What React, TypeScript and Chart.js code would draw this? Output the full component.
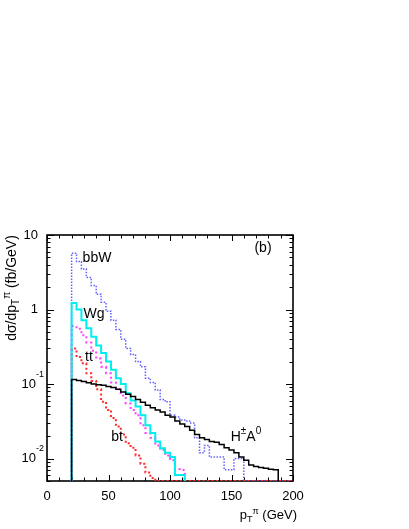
import React, { useEffect, useRef } from "react";
import { Chart, registerables } from "chart.js";
Chart.register(...registerables);

// Histogram bin edges (GeV), 4 GeV bins
const binEdges = [20, 24, 28, 32, 36, 40, 44, 48, 52, 56, 60, 64, 68, 72, 76, 80, 84, 88, 92, 96, 100, 104, 108, 112, 116, 120, 124, 128, 132, 136, 140, 144, 148, 152, 156, 160, 164, 168, 172, 176, 180, 184, 188, 192, 196, 200];

// dσ/dpT (fb/GeV) per bin, starting at the 20 GeV bin
const hA0 = [0.115, 0.112, 0.108, 0.104, 0.1, 0.098, 0.096, 0.093, 0.09, 0.085, 0.078, 0.073, 0.068, 0.062, 0.057, 0.052, 0.048, 0.045, 0.042, 0.038, 0.036, 0.032, 0.029, 0.027, 0.024, 0.021, 0.019, 0.018, 0.017, 0.0165, 0.0155, 0.014, 0.013, 0.012, 0.0105, 0.0095, 0.0082, 0.0078, 0.0076, 0.0074, 0.0072, 0.0071];
const bbW = [5.7, 4.4, 3.5, 2.7, 2.1, 1.6, 1.25, 0.95, 0.72, 0.54, 0.4, 0.3, 0.25, 0.2, 0.17, 0.12, 0.105, 0.083, 0.062, 0.058, 0.038, 0.036, 0.033, 0.032, 0.03, 0.019, 0.012, 0.015, 0.0105, 0.0105, 0.0105, 0.0071, 0.0071, 0.01, 0.01];
const wg = [1.22, 1.0, 0.72, 0.56, 0.43, 0.33, 0.26, 0.2, 0.155, 0.12, 0.1, 0.075, 0.06, 0.05, 0.038, 0.028, 0.022, 0.017, 0.0138, 0.012, 0.0105, 0.006, 0.006];
const ttbar = [0.6, 0.55, 0.45, 0.36, 0.28, 0.22, 0.17, 0.14, 0.105, 0.085, 0.07, 0.055, 0.045, 0.038, 0.028, 0.022, 0.019, 0.015, 0.013, 0.011, 0.0095, 0.0072, 0.007];
const bt = [0.3, 0.23, 0.19, 0.14, 0.11, 0.085, 0.058, 0.045, 0.035, 0.027, 0.021, 0.016, 0.014, 0.011, 0.0085, 0.0065, 0.0055];

const xTickLabels = [0, 50, 100, 150, 200];
const yTickValues = [10, 1, 0.1, 0.01];
const yTickBase = ["10", "1", "10", "10"];
const yTickExp = ["", "", "-1", "-2"];

const X_MIN = 0;
const X_MAX = 200;
const Y_MIN = 0.005;
const Y_MAX = 10;
const FONT = '"Liberation Sans", Arial, Helvetica, sans-serif';

function histPoints(vals: number[], tailTo?: number) {
  const pts: { x: number; y: number }[] = [{ x: binEdges[0], y: Y_MIN }];
  vals.forEach((v, i) => pts.push({ x: binEdges[i], y: v }));
  const end = binEdges[vals.length];
  pts.push({ x: end, y: vals[vals.length - 1] });
  pts.push({ x: end, y: Y_MIN });
  if (tailTo !== undefined) pts.push({ x: tailTo, y: Y_MIN });
  return pts;
}

type Part = { t: string; size: number; dy: number };

function drawRich(ctx: CanvasRenderingContext2D, parts: Part[], x: number, y: number, align: "left" | "center" | "right") {
  let w = 0;
  for (const p of parts) {
    ctx.font = `${p.size}px ${FONT}`;
    w += ctx.measureText(p.t).width;
  }
  let cx = align === "left" ? x : align === "center" ? x - w / 2 : x - w;
  ctx.textAlign = "left";
  for (const p of parts) {
    ctx.font = `${p.size}px ${FONT}`;
    ctx.fillText(p.t, cx, y + p.dy);
    cx += ctx.measureText(p.t).width;
  }
}

const decor = {
  id: "decor",
  beforeDatasetsDraw(chart: any) {
    const { ctx, chartArea: a, scales } = chart;
    const xs = scales.x;
    const ys = scales.y;
    ctx.save();
    ctx.strokeStyle = "#000";
    ctx.lineWidth = 1;
    ctx.beginPath();
    for (let v = X_MIN; v <= X_MAX; v += 10) {
      const px = Math.round(xs.getPixelForValue(v)) + 0.5;
      const len = v % 50 === 0 ? 6 : 3.5;
      ctx.moveTo(px, a.bottom);
      ctx.lineTo(px, a.bottom - len);
      ctx.moveTo(px, a.top);
      ctx.lineTo(px, a.top + len);
    }
    for (let e = -3; e <= 1; e++) {
      for (let m = 1; m <= 9; m++) {
        const v = m * Math.pow(10, e);
        if (v < Y_MIN * 0.999 || v > Y_MAX * 1.001) continue;
        const py = Math.round(ys.getPixelForValue(v)) + 0.5;
        const len = m === 1 ? 7 : 3.5;
        ctx.moveTo(a.left, py);
        ctx.lineTo(a.left + len, py);
        ctx.moveTo(a.right, py);
        ctx.lineTo(a.right - len, py);
      }
    }
    ctx.stroke();
    ctx.lineWidth = 1.6;
    ctx.strokeRect(a.left, a.top, a.right - a.left, a.bottom - a.top);
    ctx.restore();
  },
  afterDraw(chart: any) {
    const { ctx, chartArea: a, scales } = chart;
    const xs = scales.x;
    const ys = scales.y;
    ctx.save();
    ctx.fillStyle = "#000";
    ctx.textBaseline = "middle";
    for (const v of xTickLabels) {
      drawRich(ctx, [{ t: String(v), size: 13, dy: 0 }], xs.getPixelForValue(v), a.bottom + 15, "center");
    }
    yTickValues.forEach((v, i) => {
      const py = ys.getPixelForValue(v);
      if (yTickExp[i]) {
        drawRich(ctx, [
          { t: yTickBase[i], size: 13, dy: 0 },
          { t: yTickExp[i], size: 9, dy: -10 },
        ], a.left - 3, py, "right");
      } else {
        drawRich(ctx, [{ t: yTickBase[i], size: 13, dy: 0 }], a.left - 9, py, "right");
      }
    });
    ctx.textBaseline = "alphabetic";
    drawRich(ctx, [
      { t: "p", size: 13, dy: 0 },
      { t: "T", size: 9, dy: 3 },
      { t: "π", size: 9, dy: -5 },
      { t: " (GeV)", size: 13, dy: 0 },
    ], a.right + 4, a.bottom + 38, "right");
    ctx.save();
    ctx.translate(16, 288);
    ctx.rotate(-Math.PI / 2);
    drawRich(ctx, [
      { t: "dσ/dp", size: 14, dy: 0 },
      { t: "T", size: 10, dy: 3 },
      { t: "π", size: 10, dy: -6 },
      { t: " (fb/GeV)", size: 14, dy: 0 },
    ], 0, 0, "center");
    ctx.restore();
    ctx.textBaseline = "middle";
    drawRich(ctx, [{ t: "(b)", size: 14, dy: 0 }], 263, 248, "center");
    drawRich(ctx, [{ t: "bbW", size: 14, dy: 0 }], 97, 258, "center");
    drawRich(ctx, [{ t: "Wg", size: 14, dy: 0 }], 94, 314, "center");
    drawRich(ctx, [{ t: "tt", size: 14, dy: 0 }], 89, 357, "center");
    drawRich(ctx, [{ t: "bt", size: 14, dy: 0 }], 117, 437, "center");
    drawRich(ctx, [
      { t: "H", size: 14, dy: 0 },
      { t: "±", size: 10, dy: -6 },
      { t: "A", size: 14, dy: 0 },
      { t: "0", size: 10, dy: -6 },
    ], 246, 437, "center");
    ctx.restore();
  },
};

export default function App() {
  const ref = useRef<HTMLCanvasElement | null>(null);
  useEffect(() => {
    if (!ref.current) return;
    const common = { pointRadius: 0, tension: 0, stepped: true as const, fill: false };
    const chart = new Chart(ref.current, {
      type: "line",
      data: {
        datasets: [
          { ...common, label: "H±A0", data: histPoints(hA0), borderColor: "#000000", borderWidth: 1.5, order: 0 },
          { ...common, label: "Wg", data: histPoints(wg), borderColor: "#00eeee", borderWidth: 2, order: 1 },
          { ...common, label: "tt", data: histPoints(ttbar), borderColor: "#ff40ff", borderWidth: 2, borderDash: [2, 3], order: 2 },
          { ...common, label: "bt", data: histPoints(bt, 200), borderColor: "#ff2a2a", borderWidth: 2, borderDash: [2, 2.5], order: 3 },
          { ...common, label: "bbW", data: histPoints(bbW, 200), borderColor: "#6262ff", borderWidth: 1.5, borderDash: [1.5, 1.5], order: 4 },
        ] as any,
      },
      options: {
        responsive: false,
        maintainAspectRatio: false,
        animation: false,
        devicePixelRatio: 1,
        events: [],
        parsing: false as any,
        layout: { padding: { left: 47, top: 235, right: 116, bottom: 48 } },
        plugins: { legend: { display: false }, tooltip: { enabled: false }, title: { display: false } },
        scales: {
          x: { type: "linear", min: X_MIN, max: X_MAX, display: false },
          y: { type: "logarithmic", min: Y_MIN, max: Y_MAX, display: false },
        },
      },
      plugins: [decor],
    });
    return () => chart.destroy();
  }, []);
  return (
    <div style={{ position: "fixed", left: 0, top: 0, width: 409, height: 529, background: "#fff" }}>
      <canvas ref={ref} width={409} height={529} style={{ display: "block" }} />
    </div>
  );
}
